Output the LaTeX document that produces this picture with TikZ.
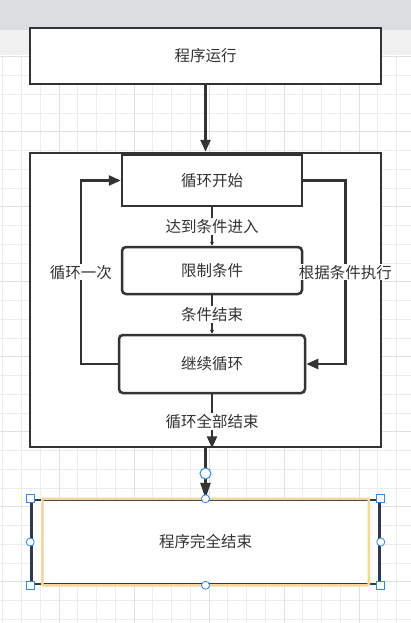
\documentclass[tikz,border=0pt]{standalone}
\usepackage{fontspec}
\newfontfamily\cjkfont{Noto Sans CJK SC}
\usetikzlibrary{arrows.meta,positioning}
\definecolor{linegray}{HTML}{333333}
\definecolor{gridthin}{HTML}{EDEDED}
\definecolor{gridthick}{HTML}{E0E0E0}
\definecolor{barback}{HTML}{DCDDE0}
\definecolor{barlight}{HTML}{F1F1F1}
\definecolor{selblue}{HTML}{2D8CEB}
\definecolor{selnavy}{HTML}{2B3A4C}
\definecolor{editorange}{HTML}{F3D69C}

\tikzset{
  cjktext/.style={text=linegray, font=\cjkfont\fontsize{15.5}{18}\selectfont},
  stepbox/.style={draw=linegray, line width=2.5pt, fill=white, cjktext, inner sep=0pt},
  roundbox/.style={stepbox, rounded corners=4pt},
  flow/.style={draw=linegray, line width=2.5pt, -{Triangle[length=12pt,width=10pt]}},
  thinflow/.style={draw=linegray, line width=2.5pt, -{Triangle[length=4pt,width=4pt]}},
  edgelabel/.style={fill=white, cjktext, inner sep=1pt},
  handle/.style={draw=selblue, fill=white, line width=0.8pt, minimum size=8pt, inner sep=0pt},
  pin/.style={handle, circle, minimum size=8pt},
}

\begin{document}
\begin{tikzpicture}[x=1pt,y=-1pt]
  \useasboundingbox (0,0) rectangle (411,623);
  % editor background
  \fill[white] (0,0) rectangle (411,623);
  \foreach \i in {0,...,21}
    \draw[gridthin, line width=0.8pt] ({2.7+18.75*\i},55) -- ++(0,568);
  \foreach \j in {0,...,30}
    \draw[gridthin, line width=0.8pt] (0,{56.7+18.75*\j}) -- ++(411,0);
  \foreach \i in {3,7,...,19}
    \draw[gridthick, line width=0.8pt] ({2.7+18.75*\i},55) -- ++(0,568);
  \foreach \j in {0,4,...,28}
    \draw[gridthick, line width=0.8pt] (0,{56.7+18.75*\j}) -- ++(411,0);
  \fill[barlight] (0,30) rectangle (411,55);
  \fill[barback] (0,0) rectangle (411,30);

  % boxes
  \node[stepbox, minimum width=351pt, minimum height=56pt] (run) at (205.5,56) {程序运行};
  \node[stepbox, minimum width=351pt, minimum height=294pt] (loop) at (205.5,300) {};
  \node[stepbox, minimum width=180pt, minimum height=51pt] (start) at (212,180.5) {循环开始};
  \node[roundbox, minimum width=180pt, minimum height=47pt, below=38.5pt of start] (limit) {限制条件};
  \node[roundbox, minimum width=186pt, minimum height=58pt, below=38.5pt of limit] (cont) {继续循环};
  \node[stepbox, draw=selnavy, minimum width=348pt, minimum height=84pt] (finish) at (205.5,542) {程序完全结束};

  % connectors
  \draw[flow] (run) -- (loop);
  \draw[thinflow] (start) -- node[edgelabel] {达到条件进入} (limit);
  \draw[thinflow] (limit) -- node[edgelabel] {条件结束} (cont);
  \draw[flow] (cont) -- node[edgelabel] {循环全部结束} (cont.south |- loop.south);
  \draw[flow] (cont.west) -- ++(-37,0) |- node[pos=0.25, edgelabel] {循环一次} (start.west);
  \draw[flow] (start.east) -- ++(42,0) |- node[pos=0.25, edgelabel] {根据条件执行} (cont.east);
  \draw[flow, -{Triangle[length=16pt,width=10pt]}] (loop) -- node[pin, minimum size=11pt, line width=1pt] {} (finish);

  % selection of the last box
  \draw[editorange, line width=2.5pt, rounded corners=1pt]
    ([xshift=12pt]finish.north west) rectangle ([xshift=-12pt]finish.south east);
  \foreach \c in {north west, north east, south west, south east}
    \node[handle] at (finish.\c) {};
  \foreach \c in {north, south, west, east}
    \node[pin] at (finish.\c) {};
\end{tikzpicture}
\end{document}
